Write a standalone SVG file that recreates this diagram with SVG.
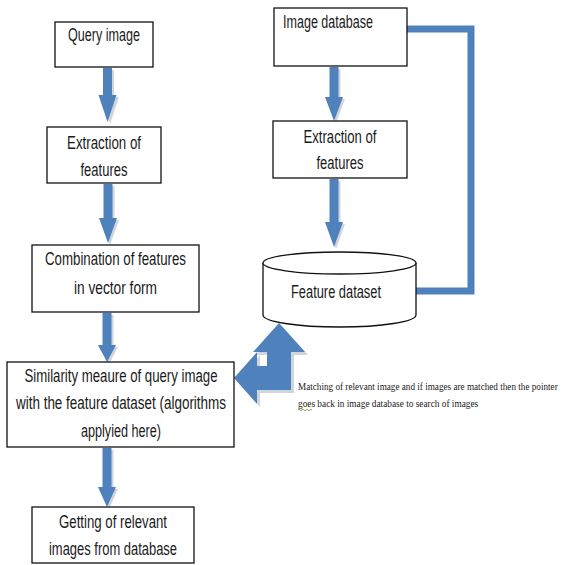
<svg xmlns="http://www.w3.org/2000/svg" width="565" height="565" viewBox="0 0 565 565">
<style>
.box{fill:#fff;stroke:#111;stroke-width:1.3}
.t{font-family:"Liberation Sans",Arial,sans-serif;font-size:17.5px;fill:#1a1a1a;text-anchor:middle}
.ann{font-family:"Liberation Serif","Times New Roman",serif;font-size:11px;fill:#1a1a1a}
.arr{fill:#4F81BD}
.sh{fill:#8a96a8;opacity:0.4}
.line{fill:none;stroke:#4F81BD;stroke-width:7}
</style>
<rect width="565" height="565" fill="#fff"/>
<g id="connectors">
  <path class="line" d="M404,29 H471 V291 H416"/>
  <g id="down-arrows">
    <path class="sh" d="M105,70 H114 V97 H119 L110,124 L101,97 H105 Z"/>
    <path class="arr" d="M103,68 H112 V95 H116.5 L107.5,122 L98.5,95 H103 Z"/>
    <path class="sh" d="M105.5,186 H114.5 V220 H119 L110,245 L101,220 H105.5 Z"/>
    <path class="arr" d="M103.5,184 H112.5 V218 H117 L108,243 L99,218 H103.5 Z"/>
    <path class="sh" d="M104.5,315 H113.5 V347 H118 L109,364 L100,347 H104.5 Z"/>
    <path class="arr" d="M102.5,313 H111.5 V345 H116 L107,362 L98,345 H102.5 Z"/>
    <path class="sh" d="M104.5,450 H113.5 V489 H118 L109,509 L100,489 H104.5 Z"/>
    <path class="arr" d="M102.5,448 H111.5 V487 H116 L107,507 L98,487 H102.5 Z"/>
    <path class="sh" d="M331.5,69 H340.5 V99 H345 L336,123 L327,99 H331.5 Z"/>
    <path class="arr" d="M329.5,67 H338.5 V97 H343 L334,121 L325,97 H329.5 Z"/>
    <path class="sh" d="M331.5,181 H340.5 V224 H345 L336,249 L327,224 H331.5 Z"/>
    <path class="arr" d="M329.5,179 H338.5 V222 H343 L334,247 L325,222 H329.5 Z"/>
  </g>
  <g id="left-up-arrow">
    <path class="sh" transform="translate(3,3)" d="M279,323 L305,352 H291 V390 H257 V404 L234,378 L257,352 V366 H267 V352 H253 Z"/>
    <path class="arr" d="M279,323 L305,352 H291 V390 H257 V404 L234,378 L257,352 V366 H267 V352 H253 Z"/>
  </g>
</g>
<g id="query-image">
  <rect class="box" x="55" y="22" width="98" height="45"/>
  <text class="t" x="104" y="41" textLength="72" lengthAdjust="spacingAndGlyphs">Query image</text>
</g>
<g id="extraction-left">
  <rect class="box" x="47" y="127" width="114" height="56"/>
  <text class="t" x="104" y="149" textLength="74" lengthAdjust="spacingAndGlyphs">Extraction of</text>
  <text class="t" x="104" y="176" textLength="47" lengthAdjust="spacingAndGlyphs">features</text>
</g>
<g id="combination">
  <rect class="box" x="32" y="245" width="167" height="67"/>
  <text class="t" x="115.5" y="265" textLength="141" lengthAdjust="spacingAndGlyphs">Combination of features</text>
  <text class="t" x="115.5" y="294" textLength="83" lengthAdjust="spacingAndGlyphs">in vector form</text>
</g>
<g id="similarity">
  <rect class="box" x="7" y="362" width="227" height="85"/>
  <text class="t" x="121" y="382" textLength="193" lengthAdjust="spacingAndGlyphs">Similarity meaure of query image</text>
  <text class="t" x="121" y="409" textLength="210" lengthAdjust="spacingAndGlyphs">with the feature dataset (algorithms</text>
  <text class="t" x="121" y="437" textLength="80" lengthAdjust="spacingAndGlyphs">applyied here)</text>
</g>
<g id="getting">
  <rect class="box" x="32" y="507" width="162" height="56"/>
  <text class="t" x="113" y="528" textLength="108" lengthAdjust="spacingAndGlyphs">Getting of relevant</text>
  <text class="t" x="113" y="555" textLength="128" lengthAdjust="spacingAndGlyphs">images from database</text>
</g>
<g id="image-database">
  <rect class="box" x="274" y="8" width="133" height="58"/>
  <text class="t" x="283" y="28" style="text-anchor:start" textLength="90" lengthAdjust="spacingAndGlyphs">Image database</text>
</g>
<g id="extraction-right">
  <rect class="box" x="273" y="121" width="134" height="57"/>
  <text class="t" x="340" y="143" textLength="73" lengthAdjust="spacingAndGlyphs">Extraction of</text>
  <text class="t" x="340" y="169" textLength="47" lengthAdjust="spacingAndGlyphs">features</text>
</g>
<g id="feature-dataset">
  <path class="box" d="M263,263 V315 A76.5,12 0 0 0 416,315 V263"/>
  <ellipse class="box" cx="339.5" cy="263" rx="76.5" ry="11"/>
  <text class="t" x="336" y="298" textLength="90" lengthAdjust="spacingAndGlyphs">Feature dataset</text>
</g>
<g id="annotation">
  <g transform="translate(298,0) scale(0.78,1)">
    <text class="ann" x="0" y="390" textLength="333" lengthAdjust="spacingAndGlyphs">Matching of relevant image and if images  are matched then the pointer</text>
    <text class="ann" x="0" y="407" textLength="231" lengthAdjust="spacingAndGlyphs">goes back in image database to search of images</text>
  </g>
  <path d="M298,410 q1,-1.5 2,0 t2,0 t2,0 t2,0 t2,0 t2,0 t2,0" fill="none" stroke="#6a9a4a" stroke-width="0.8"/>
</g>
</svg>
